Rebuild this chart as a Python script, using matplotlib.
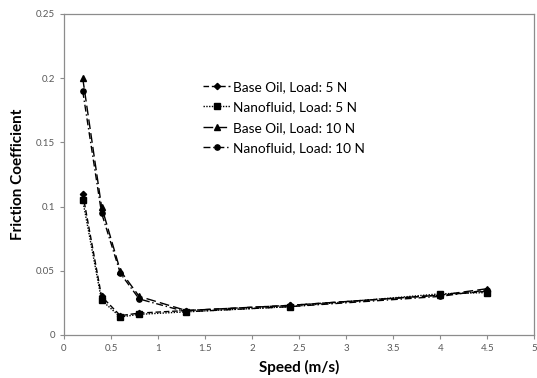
import matplotlib.pyplot as plt

speed = [0.2, 0.4, 0.6, 0.8, 1.3, 2.4, 4.0, 4.5]
base_5n = [0.110, 0.030, 0.015, 0.017, 0.019, 0.023, 0.031, 0.034]
nano_5n = [0.105, 0.027, 0.014, 0.016, 0.018, 0.022, 0.032, 0.033]
base_10n = [0.200, 0.100, 0.050, 0.030, 0.019, 0.023, 0.031, 0.036]
nano_10n = [0.190, 0.095, 0.048, 0.028, 0.018, 0.022, 0.030, 0.035]

plt.rcParams['font.family'] = ['Lato', 'DejaVu Sans']

fig = plt.figure(figsize=(5.37, 3.78), dpi=100)
ax = fig.add_axes([0.119, 0.114, 0.876, 0.849])

ax.plot(speed, base_5n, color='black', linestyle=(0, (4, 2)), marker='D', markersize=3.2,
        linewidth=1.0, label='Base Oil, Load: 5 N')
ax.plot(speed, nano_5n, color='black', linestyle=(0, (1, 1)), marker='s', markersize=3.8,
        linewidth=1.0, label='Nanofluid, Load: 5 N')
ax.plot(speed, base_10n, color='black', linestyle=(0, (7, 3)), marker='^', markersize=4.2,
        linewidth=1.0, label='Base Oil, Load: 10 N')
ax.plot(speed, nano_10n, color='black', linestyle=(0, (5, 2, 1, 2)), marker='o', markersize=3.8,
        linewidth=1.0, label='Nanofluid, Load: 10 N')

ax.set_xlim(0, 5)
ax.set_ylim(0, 0.25)
ax.set_xticks([0, 0.5, 1, 1.5, 2, 2.5, 3, 3.5, 4, 4.5, 5])
ax.set_xticklabels(['0', '0.5', '1', '1.5', '2', '2.5', '3', '3.5', '4', '4.5', '5'])
ax.set_yticks([0, 0.05, 0.1, 0.15, 0.2, 0.25])
ax.set_yticklabels(['0', '0.05', '0.1', '0.15', '0.2', '0.25'])

for s in ax.spines.values():
    s.set_color('#8c8c8c')
    s.set_linewidth(0.9)
ax.tick_params(colors='#8c8c8c', labelcolor='#595959', labelsize=7, length=3, width=0.8)

ax.set_xlabel('Speed (m/s)', fontsize=11, fontweight='bold', labelpad=5)
ax.set_ylabel('Friction Coefficient', fontsize=11, fontweight='bold', labelpad=8)

ax.legend(loc='upper left', bbox_to_anchor=(0.27, 0.83), frameon=False, fontsize=9.8,
          handlelength=2.0, handletextpad=0.2, labelspacing=0.62)

fig.savefig('out.png', dpi=100)
